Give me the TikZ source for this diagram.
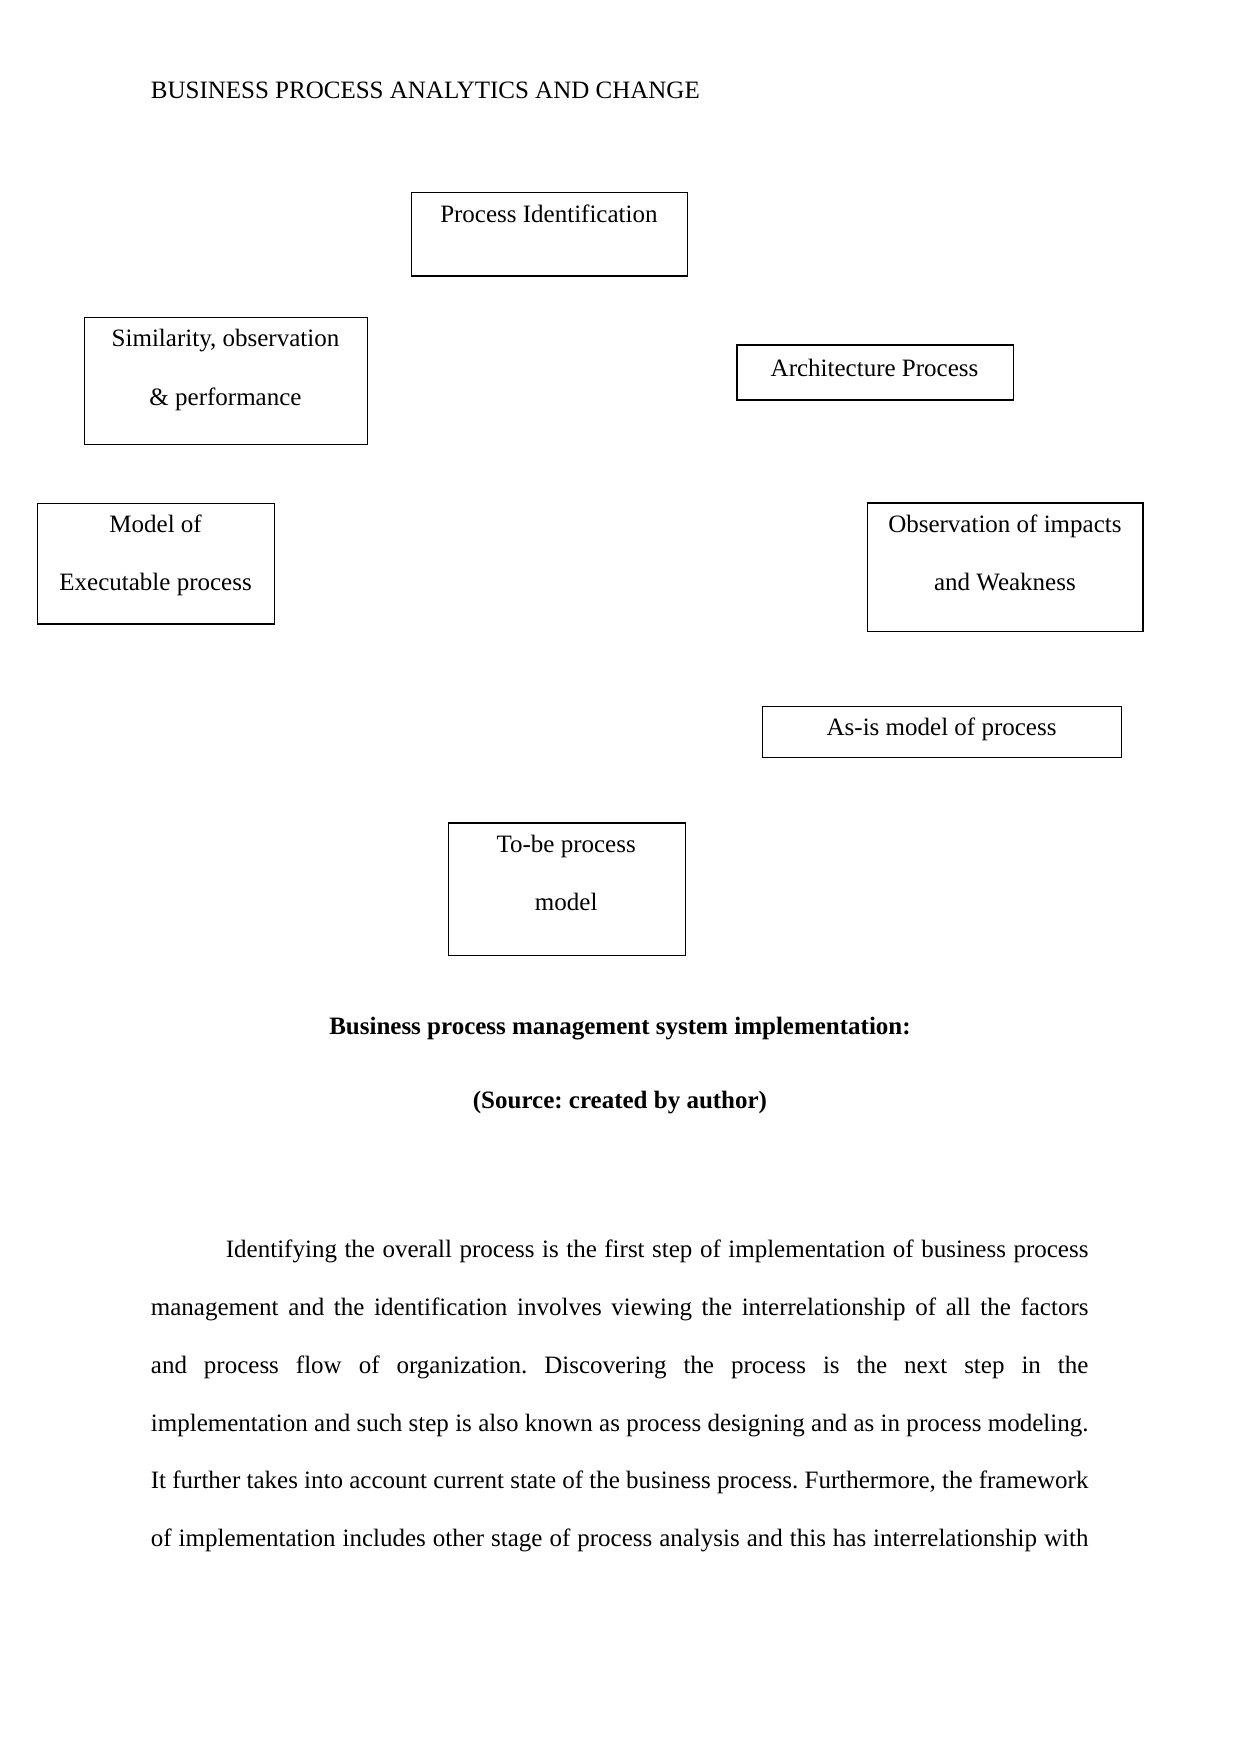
\documentclass[tikz,border=0pt]{standalone}
\usepackage{fontspec}
\setmainfont{Liberation Serif}
\frenchspacing
\begin{document}
\begin{tikzpicture}[x=0.48pt,y=-0.48pt,
  boxnode/.style={draw=black,line width=0.6pt,rectangle,inner sep=0pt,anchor=north west},
  txt/.style={inner sep=0pt,anchor=base,font=\fontsize{12pt}{14pt}\selectfont},
  bold/.style={txt,font=\fontsize{12pt}{14pt}\selectfont\bfseries}]
\useasboundingbox[fill=white] (0,0) rectangle (1241,1754);

\node[txt,anchor=base west] (title) at (150.5,98.3) {BUSINESS PROCESS ANALYTICS AND CHANGE};

% boxes
\node[boxnode,minimum width=132.7pt,minimum height=40.1pt] (pi) at (410.7,191.7) {};
\node[boxnode,minimum width=135.9pt,minimum height=61.3pt] (sim) at (83.9,316.5) {};
\node[boxnode,minimum width=132.7pt,minimum height=26.4pt] (arch) at (736.3,344.3) {};
\node[boxnode,minimum width=113.9pt,minimum height=58.0pt] (model) at (36.9,502.5) {};
\node[boxnode,minimum width=132.1pt,minimum height=61.8pt] (obs) at (867.2,502.3) {};
\node[boxnode,minimum width=172.4pt,minimum height=24.6pt] (asis) at (762.0,705.7) {};
\node[boxnode,minimum width=113.9pt,minimum height=63.7pt] (tobe) at (447.6,822.3) {};

% box texts
\node[txt] (piT) at (548.9,222) {Process Identification};
\node[txt] (simT1) at (225.5,346.7) {Similarity, observation};
\node[txt] (simT2) at (225.5,405) {\& performance};
\node[txt] (archT) at (874.5,376) {Architecture Process};
\node[txt] (modelT1) at (155.6,532) {Model of};
\node[txt] (modelT2) at (155.6,590.3) {Executable process};
\node[txt] (obsT1) at (1004.9,532.7) {Observation of impacts};
\node[txt] (obsT2) at (1004.9,590.3) {and Weakness};
\node[txt] (asisT) at (941.6,735.3) {As-is model of process};
\node[txt] (tobeT1) at (566.2,852) {To-be process};
\node[txt] (tobeT2) at (566.2,910.3) {model};

% caption
\node[bold] (cap1) at (620,1034.3) {Business process management system implementation:};
\node[bold] (cap2) at (620,1108.7) {(Source: created by author)};

% paragraph
\node[txt,anchor=base west] (para) at (150.5,1257.7) {\parbox[t]{450pt}{%
\fontsize{12pt}{27.74pt}\selectfont
\makebox[450pt][s]{\hspace*{36pt}Identifying the overall process is the first step of implementation of business process}\par
\makebox[450pt][s]{management and the identification involves viewing the interrelationship of all the factors}\par
\makebox[450pt][s]{and process flow of organization. Discovering the process is the next step in the}\par
\makebox[450pt][s]{implementation and such step is also known as process designing and as in process modeling.}\par
\makebox[450pt][s]{It further takes into account current state of the business process. Furthermore, the framework}\par
\makebox[450pt][s]{of implementation includes other stage of process analysis and this has interrelationship with}}};
\end{tikzpicture}
\end{document}
